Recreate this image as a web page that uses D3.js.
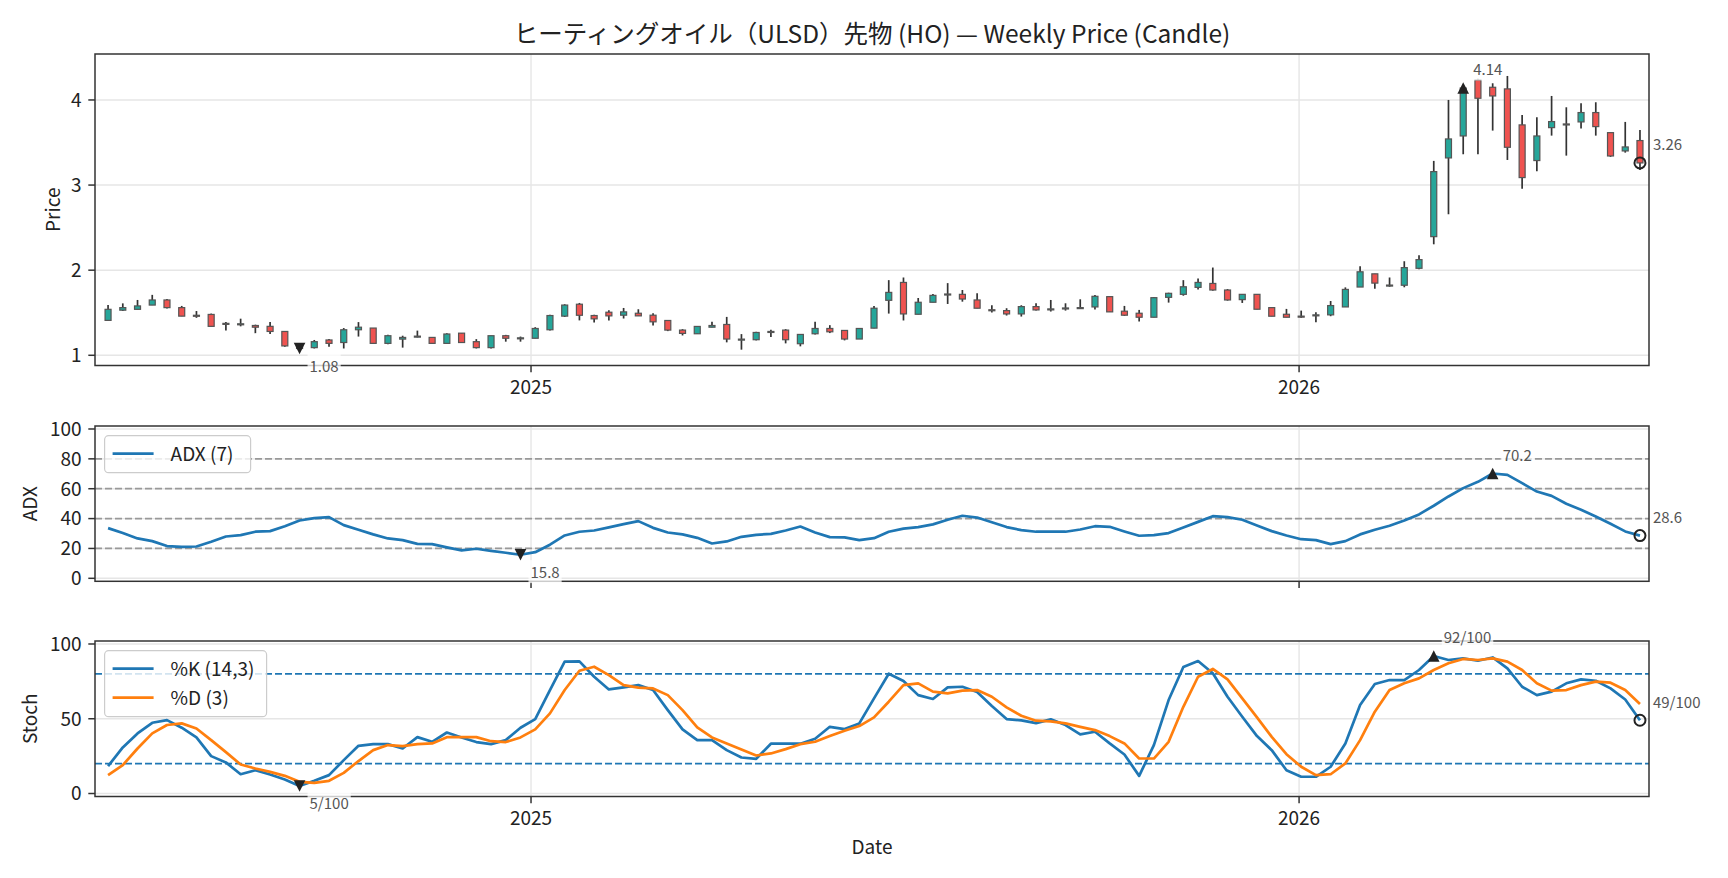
<!DOCTYPE html>
<html>
<head>
<meta charset="utf-8">
<script src="https://cdn.jsdelivr.net/npm/d3@7"></script>
<style>
body { margin: 0; background: #fff; }
svg { font-family: "Noto Sans CJK JP", "Noto Sans", sans-serif; }
</style>
</head>
<body>
<svg id="chart" width="1728" height="878"></svg>
<script>
'use strict';

// weekly bars (fridays)
var firstWeek = new Date(Date.UTC(2024, 5, 14));
var lastWeek = new Date(Date.UTC(2026, 5, 12));

var open = [1.41,1.53,1.54,1.59,1.65,1.56,1.47,1.48,1.375,1.365, 1.35,1.34,1.28,1.11,1.09,1.18,1.15,1.30,1.32,1.14,
	1.19,1.22,1.21,1.14,1.26,1.16,1.09,1.23,1.20,1.20, 1.30,1.46,1.60,1.467,1.506,1.471,1.494,1.471,1.409,1.296,
	1.253,1.33,1.362,1.18,1.183,1.27,1.296,1.136,1.253,1.315, 1.292,1.191,1.319,1.646,1.856,1.482,1.623,1.715,1.716,1.65,
	1.535,1.525,1.486,1.572,1.54,1.55,1.558,1.568,1.689,1.518, 1.494,1.447,1.681,1.716,1.798,1.844,1.767,1.654,1.716,1.56,
	1.482,1.46,1.47,1.475,1.568,1.802,1.957,1.82,1.823,2.022, 2.394,3.319,3.577,4.235,4.149,4.13,3.707,3.288,3.675,3.718,
	3.742,3.852,3.616,3.401,3.523];
var high = [1.59,1.61,1.65,1.71,1.66,1.58,1.52,1.49,1.39,1.43, 1.36,1.39,1.28,1.12,1.18,1.19,1.32,1.39,1.32,1.24,
	1.23,1.29,1.21,1.26,1.26,1.19,1.23,1.24,1.22,1.33, 1.475,1.60,1.615,1.475,1.529,1.556,1.541,1.494,1.409,1.307,
	1.339,1.393,1.451,1.249,1.276,1.30,1.307,1.245,1.393,1.354, 1.292,1.315,1.58,1.883,1.914,1.673,1.72,1.848,1.767,1.728,
	1.588,1.553,1.588,1.611,1.65,1.611,1.658,1.708,1.689,1.58, 1.533,1.681,1.735,1.883,1.903,2.031,1.778,1.716,1.716,1.56,
	1.545,1.525,1.506,1.638,1.798,2.047,1.957,1.914,2.105,2.175, 3.284,4.0,4.16,4.25,4.196,4.282,3.824,3.797,4.047,3.914,
	3.961,3.973,3.616,3.742,3.648];
var low = [1.41,1.52,1.54,1.59,1.55,1.46,1.44,1.34,1.29,1.34, 1.26,1.25,1.10,1.07,1.08,1.10,1.08,1.22,1.14,1.13,
	1.09,1.21,1.14,1.14,1.15,1.08,1.08,1.16,1.16,1.20, 1.29,1.45,1.41,1.385,1.409,1.432,1.463,1.35,1.284,1.233,
	1.253,1.33,1.152,1.066,1.175,1.214,1.14,1.105,1.245,1.261, 1.175,1.191,1.319,1.49,1.409,1.482,1.623,1.603,1.63,1.553,
	1.502,1.467,1.455,1.525,1.514,1.525,1.553,1.537,1.51,1.463, 1.397,1.447,1.619,1.70,1.774,1.759,1.642,1.615,1.541,1.459,
	1.447,1.44,1.389,1.459,1.568,1.802,1.782,1.805,1.799,2.011, 2.304,2.657,3.362,3.362,3.64,3.295,2.958,3.162,3.581,3.346,
	3.664,3.581,3.331,3.381,3.178];
var close = [1.54,1.56,1.58,1.65,1.56,1.46,1.465,1.34,1.37,1.37, 1.33,1.28,1.11,1.08,1.16,1.14,1.30,1.33,1.14,1.23,
	1.21,1.225,1.14,1.25,1.15,1.09,1.23,1.20,1.205,1.315, 1.467,1.59,1.47,1.428,1.463,1.51,1.463,1.393,1.296,1.257,
	1.339,1.35,1.191,1.19,1.268,1.28,1.183,1.245,1.315,1.276, 1.191,1.315,1.553,1.739,1.486,1.623,1.704,1.72,1.661,1.553,
	1.53,1.486,1.572,1.533,1.545,1.556,1.56,1.693,1.51,1.471, 1.447,1.677,1.728,1.805,1.856,1.767,1.65,1.716,1.541,1.459,
	1.447,1.455,1.475,1.584,1.774,1.981,1.848,1.825,2.03,2.124, 3.158,3.542,4.14,4.02,4.047,3.444,3.088,3.577,3.746,3.71,
	3.852,3.687,3.342,3.448,3.26];

var adx = [33.6,30.3,26.7,24.9,21.6,21.1,21.3,24.5,28.0,28.9, 31.2,31.6,34.9,38.7,40.3,41.0,35.6,32.5,29.4,26.7,
	25.6,23.1,22.9,20.7,18.7,19.8,18.4,17.1,15.8,17.5, 22.5,28.7,31.2,32.0,34.1,36.3,38.3,33.8,30.7,29.4,
	27.1,23.3,24.7,27.8,29.1,29.8,32.0,34.7,30.7,27.6, 27.4,25.6,26.9,31.2,33.3,34.3,36.1,39.2,41.9,40.7,
	37.6,34.3,32.3,31.2,31.2,31.2,32.7,34.9,34.5,31.4, 28.5,28.9,30.3,34.1,37.8,41.6,41.0,39.2,35.4,31.6,
	28.7,26.2,25.6,22.9,24.9,29.4,32.5,35.2,38.7,42.8, 48.6,54.8,60.4,64.6,70.2,69.3,63.7,58.1,55.2,49.9,
	45.9,41.4,36.5,31.4,28.6];

var stochK = [18.3,30.8,40.2,47.3,49.1,44.0,37.5,25.0,20.8,12.9, 15.6,12.7,9.4,5.0,8.5,12.3,22.3,31.9,33.0,33.0,
	30.1,37.7,34.6,40.8,37.5,34.4,33.0,35.7,44.0,49.8, 69.2,88.2,88.4,78.1,69.6,71.0,72.5,69.2,55.8,42.9,
	35.7,35.7,29.0,24.1,23.2,33.3,33.3,33.3,36.6,44.6, 43.1,46.9,63.6,80.1,75.3,65.8,63.2,71.0,71.4,67.9,
	58.5,49.8,48.9,47.1,49.6,45.8,39.5,41.3,33.5,26.1, 11.8,32.4,62.5,84.6,88.6,80.4,64.7,51.3,38.4,29.0,
	15.6,11.2,11.2,17.9,33.5,59.2,73.2,75.9,75.9,82.6, 92.0,89.3,90.4,88.8,91.0,83.7,71.4,65.8,68.1,73.7,
	76.3,75.4,70.3,62.9,49.0];
var stochD = [12.3,19.0,30.1,40.2,45.8,46.9,43.5,35.7,27.7,19.4, 16.7,14.5,11.8,7.8,7.1,8.5,13.8,21.7,29.0,32.4,
	31.7,33.0,33.5,37.7,37.7,37.7,35.0,34.4,37.5,42.9, 53.6,69.2,82.1,84.8,79.2,72.5,70.8,70.3,65.8,55.8,
	44.2,37.5,33.5,29.5,25.4,26.8,29.7,33.0,34.6,38.4, 42.0,45.1,50.9,61.4,72.5,73.7,68.1,67.0,68.8,69.2,
	64.7,57.6,52.0,48.7,48.2,46.9,44.6,42.4,38.4,33.5, 23.4,23.4,34.6,58.0,78.1,83.3,76.3,63.6,50.9,37.9,
	26.3,17.9,12.3,12.9,20.1,35.7,54.7,69.2,73.7,77.0, 82.6,87.1,90.0,89.3,90.4,88.2,82.6,73.7,68.8,69.2,
	72.5,74.8,74.1,69.2,59.8];

var priceTicks = [1, 2, 3, 4];
var adxTicks = [0, 20, 40, 60, 80, 100];
var stochTicks = [0, 50, 100];
var yearTicks = [2025, 2026];
var adxLevels = [20, 40, 60, 80];
var stochLevels = [20, 80];

var title = "ヒーティングオイル（ULSD）先物 (HO) — Weekly Price (Candle)";

var dates = d3.utcFriday.range(firstWeek, d3.utcDay.offset(lastWeek, 1));

var svg = d3.select("#chart");
var left = 95, right = 1649;
var tickLen = 6.7, tickPad = 6.7;
var fontSize = 19;

var x = d3.scaleUtc()
	.domain([new Date(Date.UTC(2024, 5, 7, 19)), new Date(Date.UTC(2026, 5, 16, 7))])
	.range([left, right]);

var panels = {
	price: {top: 54, bottom: 365.5, domain: [0.88, 4.54], ticks: priceTicks, label: "Price", labelX: 53, xLabels: true},
	adx: {top: 426, bottom: 581.3, domain: [-2, 102], ticks: adxTicks, label: "ADX", labelX: 30, xLabels: false},
	stoch: {top: 641, bottom: 796.5, domain: [-2, 102], ticks: stochTicks, label: "Stoch", labelX: 30, xLabels: true}
};

Object.keys(panels).forEach(function(k){
	var p = panels[k];
	p.y = d3.scaleLinear().domain(p.domain).range([p.bottom, p.top]);
	p.g = svg.append("g").attr("class", "panel " + k);
	p.grid = p.g.append("g");
	p.marks = p.g.append("g");
	p.frame = p.g.append("g");
	p.notes = p.g.append("g");
});

function yearDate(yr){ return new Date(Date.UTC(yr, 0, 1)); }

//grid, spines, ticks, labels for one panel
function drawAxes(p){
	p.grid.selectAll(".hgrid").data(p.ticks).enter().append("line")
		.attr("x1", left).attr("x2", right)
		.attr("y1", function(d){ return p.y(d); })
		.attr("y2", function(d){ return p.y(d); })
		.attr("stroke", "#e6e6e6").attr("stroke-width", 1.4);
	p.grid.selectAll(".vgrid").data(yearTicks).enter().append("line")
		.attr("x1", function(d){ return x(yearDate(d)); })
		.attr("x2", function(d){ return x(yearDate(d)); })
		.attr("y1", p.top).attr("y2", p.bottom)
		.attr("stroke", "#e6e6e6").attr("stroke-width", 1.4);

	p.frame.append("rect")
		.attr("x", left).attr("y", p.top)
		.attr("width", right - left).attr("height", p.bottom - p.top)
		.attr("fill", "none").attr("stroke", "#333").attr("stroke-width", 1.5);

	p.frame.selectAll(".ytick").data(p.ticks).enter().append("line")
		.attr("x1", left - tickLen).attr("x2", left)
		.attr("y1", function(d){ return p.y(d); })
		.attr("y2", function(d){ return p.y(d); })
		.attr("stroke", "#333").attr("stroke-width", 1.5);
	p.frame.selectAll(".ylab").data(p.ticks).enter().append("text")
		.attr("x", left - tickLen - tickPad)
		.attr("y", function(d){ return p.y(d); })
		.attr("dy", "0.36em")
		.attr("text-anchor", "end")
		.attr("font-size", fontSize)
		.attr("fill", "#222")
		.text(function(d){ return d; });

	p.frame.selectAll(".xtick").data(yearTicks).enter().append("line")
		.attr("x1", function(d){ return x(yearDate(d)); })
		.attr("x2", function(d){ return x(yearDate(d)); })
		.attr("y1", p.bottom).attr("y2", p.bottom + tickLen)
		.attr("stroke", "#333").attr("stroke-width", 1.5);
	if(p.xLabels){
		p.frame.selectAll(".xlab").data(yearTicks).enter().append("text")
			.attr("x", function(d){ return x(yearDate(d)); })
			.attr("y", p.bottom + tickLen + tickPad)
			.attr("dy", "0.8em")
			.attr("text-anchor", "middle")
			.attr("font-size", fontSize)
			.attr("fill", "#222")
			.text(function(d){ return d; });
	}

	p.frame.append("text")
		.attr("transform", "translate(" + p.labelX + "," + ((p.top + p.bottom) / 2) + ") rotate(-90)")
		.attr("dy", "0.36em")
		.attr("text-anchor", "middle")
		.attr("font-size", fontSize)
		.attr("fill", "#222")
		.text(p.label);
}

function markerPath(kind, cx, cy){
	var s = 5.8;
	if(kind == "up") return "M" + cx + "," + (cy - s) + "L" + (cx + s) + "," + (cy + s) + "L" + (cx - s) + "," + (cy + s) + "Z";
	return "M" + cx + "," + (cy + s) + "L" + (cx + s) + "," + (cy - s) + "L" + (cx - s) + "," + (cy - s) + "Z";
}

//min / max / last value marks with small boxed labels
function annotate(p, values, fmt){
	var iMin = d3.minIndex(values), iMax = d3.maxIndex(values), iLast = values.length - 1;
	var notes = [
		{i: iMin, kind: "down", dy: 18},
		{i: iMax, kind: "up", dy: -18},
		{i: iLast, kind: "last", dy: -18}
	];
	notes.forEach(function(n){
		var cx = x(dates[n.i]), cy = p.y(values[n.i]);
		if(n.kind == "last"){
			p.notes.append("circle")
				.attr("cx", cx).attr("cy", cy).attr("r", 5.5)
				.attr("fill", "none").attr("stroke", "#222").attr("stroke-width", 2);
		}else{
			p.notes.append("path")
				.attr("d", markerPath(n.kind, cx, cy))
				.attr("fill", "#222");
		}
		var tx = cx + (n.kind == "last" ? 13 : 10), ty = cy + n.dy;
		var box = p.notes.append("rect");
		var t = p.notes.append("text")
			.attr("x", tx).attr("y", ty)
			.attr("dy", "0.36em")
			.attr("font-size", 15)
			.attr("fill", "#555")
			.text(fmt(values[n.i]));
		var bb = t.node().getBBox();
		box.attr("x", bb.x - 2).attr("y", bb.y - 1)
			.attr("width", bb.width + 4).attr("height", bb.height + 2)
			.attr("fill", "#fff").attr("fill-opacity", 0.75);
	});
}

function legend(p, items, x0, y0, w){
	var rowH = 29;
	var h = 8 + items.length * rowH;
	var g = p.notes.append("g");
	g.append("rect")
		.attr("x", x0).attr("y", y0).attr("width", w).attr("height", h)
		.attr("rx", 4)
		.attr("fill", "#fff").attr("fill-opacity", 0.8)
		.attr("stroke", "#ccc").attr("stroke-width", 1.2);
	items.forEach(function(it, i){
		var yy = y0 + 18 + i * rowH;
		g.append("line")
			.attr("x1", x0 + 8).attr("x2", x0 + 49)
			.attr("y1", yy).attr("y2", yy)
			.attr("stroke", it.color).attr("stroke-width", 2.7);
		g.append("text")
			.attr("x", x0 + 66).attr("y", yy)
			.attr("dy", "0.36em")
			.attr("font-size", fontSize)
			.attr("fill", "#222")
			.text(it.name);
	});
}

Object.keys(panels).forEach(function(k){ drawAxes(panels[k]); });

// ---- price candles
var pp = panels.price;
var bodyW = 6;
var candles = pp.marks.selectAll(".candle")
	.data(dates)
	.enter().append("g")
	.attr("class", "candle");
candles.append("line")
	.attr("x1", function(d){ return x(d); })
	.attr("x2", function(d){ return x(d); })
	.attr("y1", function(d, i){ return pp.y(high[i]); })
	.attr("y2", function(d, i){ return pp.y(low[i]); })
	.attr("stroke", "#333").attr("stroke-width", 1.7);
candles.append("rect")
	.attr("x", function(d){ return x(d) - bodyW / 2; })
	.attr("y", function(d, i){ return pp.y(Math.max(open[i], close[i])); })
	.attr("width", bodyW)
	.attr("height", function(d, i){ return Math.max(1, Math.abs(pp.y(open[i]) - pp.y(close[i]))); })
	.attr("fill", function(d, i){ return close[i] >= open[i] ? "#26a69a" : "#ef5350"; })
	.attr("stroke", "#555").attr("stroke-width", 1.2);
annotate(pp, close, function(v){ return v.toFixed(2); });

// ---- ADX
var pa = panels.adx;
pa.marks.selectAll(".lvl").data(adxLevels).enter().append("line")
	.attr("x1", left).attr("x2", right)
	.attr("y1", function(d){ return pa.y(d); })
	.attr("y2", function(d){ return pa.y(d); })
	.attr("stroke", "#999").attr("stroke-width", 1.8)
	.attr("stroke-dasharray", "7,3");
var line = d3.line()
	.x(function(d, i){ return x(dates[i]); });
pa.marks.append("path")
	.datum(adx)
	.attr("d", line.y(function(d){ return pa.y(d); }))
	.attr("fill", "none").attr("stroke", "#1f77b4").attr("stroke-width", 2.7)
	.attr("stroke-linejoin", "round");
annotate(pa, adx, function(v){ return v.toFixed(1); });
legend(pa, [{name: "ADX (7)", color: "#1f77b4"}], 104.6, 435.7, 146);

// ---- Stochastic
var ps = panels.stoch;
ps.marks.selectAll(".lvl").data(stochLevels).enter().append("line")
	.attr("x1", left).attr("x2", right)
	.attr("y1", function(d){ return ps.y(d); })
	.attr("y2", function(d){ return ps.y(d); })
	.attr("stroke", "#1f77b4").attr("stroke-width", 1.8)
	.attr("stroke-dasharray", "7,3");
var sline = d3.line()
	.x(function(d, i){ return x(dates[i]); })
	.y(function(d){ return ps.y(d); });
ps.marks.append("path").datum(stochK)
	.attr("d", sline)
	.attr("fill", "none").attr("stroke", "#1f77b4").attr("stroke-width", 2.7)
	.attr("stroke-linejoin", "round");
ps.marks.append("path").datum(stochD)
	.attr("d", sline)
	.attr("fill", "none").attr("stroke", "#ff7f0e").attr("stroke-width", 2.7)
	.attr("stroke-linejoin", "round");
annotate(ps, stochK, function(v){ return Math.round(v) + "/100"; });
legend(ps, [{name: "%K (14,3)", color: "#1f77b4"}, {name: "%D (3)", color: "#ff7f0e"}], 104.6, 650.7, 162);

// title and x label
svg.append("text")
	.attr("x", (left + right) / 2).attr("y", 34)
	.attr("dy", "0.36em")
	.attr("text-anchor", "middle")
	.attr("font-size", 24.5)
	.attr("fill", "#222")
	.text(title);
svg.append("text")
	.attr("x", (left + right) / 2).attr("y", 846.7)
	.attr("dy", "0.36em")
	.attr("text-anchor", "middle")
	.attr("font-size", fontSize)
	.attr("fill", "#222")
	.text("Date");
</script>
</body>
</html>
